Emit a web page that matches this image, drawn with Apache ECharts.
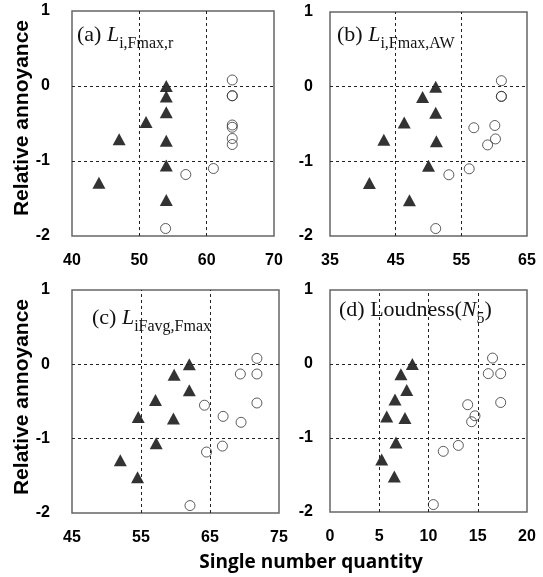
<!DOCTYPE html>
<html>
<head>
<meta charset="utf-8">
<script src="https://cdn.jsdelivr.net/npm/echarts@6/dist/echarts.min.js"></script>
<style>
  html, body { margin: 0; padding: 0; background: #fff; }
  #chart { width: 543px; height: 577px; }
</style>
</head>
<body>
<div id="chart"></div>
<script>
// ---- Data ----
// Shared relative-annoyance values
const triangleY = [0, -0.14, -0.35, -0.48, -0.71, -0.73, -1.06, -1.29, -1.52];
const circleY   = [0.08, -0.13, -0.13, -0.52, -0.55, -0.70, -0.78, -1.10, -1.18, -1.90];

// Panel (a) L_i,Fmax,r
const triangleXA = [54.0, 54.0, 54.0, 51.0, 47.0, 54.0, 54.0, 44.0, 54.0];
const circleXA   = [63.8, 63.8, 63.8, 63.8, 63.8, 63.8, 63.8, 61.0, 56.9, 53.9];
// Panel (b) L_i,Fmax,AW
const triangleXB = [51.1, 49.1, 51.1, 46.3, 43.2, 51.2, 50.0, 41.0, 47.1];
const circleXB   = [61.1, 61.1, 61.1, 60.1, 56.9, 60.2, 59.0, 56.2, 53.1, 51.1];
// Panel (c) L_iFavg,Fmax
const triangleXC = [62.0, 59.8, 62.0, 57.1, 54.6, 59.7, 57.2, 52.0, 54.5];
const circleXC   = [71.8, 69.4, 71.8, 71.8, 64.2, 66.9, 69.5, 66.8, 64.5, 62.1];
// Panel (d) Loudness(N5)
const triangleXD = [8.36, 7.2, 7.79, 6.6, 5.76, 7.61, 6.7, 5.25, 6.53];
const circleXD   = [16.5, 16.07, 17.33, 17.33, 13.98, 14.72, 14.38, 13.03, 11.5, 10.49];

// Axis ticks
const xTicksA = [40, 50, 60, 70];
const xTicksB = [35, 45, 55, 65];
const xTicksC = [45, 55, 65, 75];
const xTicksD = [0, 5, 10, 15, 20];
const yTicks  = [-2, -1, 0, 1];

const yAxisTitle = 'Relative annoyance';
const xAxisTitle = 'Single number quantity';

// ---- Build chart ----
const chart = echarts.init(document.getElementById('chart'), null, { renderer: 'canvas' });

const grids = [
  { left: 72,  top: 11,  width: 202, height: 225 },
  { left: 330, top: 12,  width: 197, height: 224 },
  { left: 72,  top: 290, width: 207, height: 223 },
  { left: 330, top: 290, width: 197, height: 222 }
];
const panels = [
  { tri: triangleXA, cir: circleXA, ticks: xTicksA, step: 10, ylabMargin: 22 },
  { tri: triangleXB, cir: circleXB, ticks: xTicksB, step: 5,  ylabMargin: 17 },
  { tri: triangleXC, cir: circleXC, ticks: xTicksC, step: 5,  ylabMargin: 22 },
  { tri: triangleXD, cir: circleXD, ticks: xTicksD, step: 5,  ylabMargin: 17 }
];

const labelFont = { fontFamily: 'Liberation Sans', fontWeight: 'bold', fontSize: 16, color: '#000' };

const xAxes = [], yAxes = [], series = [];
panels.forEach((p, i) => {
  const tmin = p.ticks[0], tmax = p.ticks[p.ticks.length - 1];
  const tickSet = new Set(p.ticks);
  xAxes.push({
    type: 'value', gridIndex: i, min: tmin, max: tmax, interval: p.step,
    axisLine: { show: false }, axisTick: { show: false }, splitLine: { show: false },
    axisLabel: Object.assign({
      margin: 17,
      formatter: v => (tickSet.has(Math.round(v * 100) / 100) ? String(v) : '')
    }, labelFont)
  });
  yAxes.push({
    type: 'value', gridIndex: i, min: yTicks[0], max: yTicks[yTicks.length - 1], interval: 1,
    axisLine: { show: false }, axisTick: { show: false }, splitLine: { show: false },
    axisLabel: Object.assign({ margin: p.ylabMargin }, labelFont)
  });
  const innerX = p.ticks.slice(1, -1);
  const innerY = yTicks.slice(1, -1);
  series.push({
    type: 'scatter', xAxisIndex: i, yAxisIndex: i,
    symbol: 'circle', symbolSize: 10,
    itemStyle: { color: 'rgba(0,0,0,0)', borderColor: '#333', borderWidth: 1 },
    data: p.cir.map((x, k) => [x, circleY[k]]),
    z: 3,
    markLine: {
      silent: true, symbol: 'none', animation: false,
      label: { show: false },
      lineStyle: { type: [3, 3], color: '#222', width: 1 },
      data: innerX.map(v => ({ xAxis: v })).concat(innerY.map(v => ({ yAxis: v })))
    }
  });
  series.push({
    type: 'scatter', xAxisIndex: i, yAxisIndex: i,
    symbol: 'triangle', symbolSize: [13, 12],
    itemStyle: { color: '#000' },
    data: p.tri.map((x, k) => [x, triangleY[k]]),
    z: 4
  });
});

const serif = 'Liberation Serif';
const titleRich = {
  n: { fontFamily: serif, fontSize: 22, lineHeight: 26, fontWeight: 'normal', color: '#111', verticalAlign: 'top' },
  i: { fontFamily: serif, fontSize: 22, lineHeight: 26, fontWeight: 'normal', fontStyle: 'italic', color: '#111', verticalAlign: 'top' },
  s: { fontFamily: serif, fontSize: 16, lineHeight: 16, fontWeight: 'normal', color: '#111', verticalAlign: 'top', padding: [12, 0, 0, 0] }
};
function mkTitle(text, left, top) {
  return { text: text, left: left, top: top, padding: 0,
           textStyle: { fontWeight: 'normal', fontFamily: serif, rich: titleRich } };
}

const option = {
  animation: false,
  backgroundColor: '#fff',
  grid: grids.map(g => Object.assign({ show: true, borderColor: '#666', borderWidth: 1.5, backgroundColor: 'transparent' }, g)),
  xAxis: xAxes,
  yAxis: yAxes,
  title: [
    mkTitle('{n|(a) }{i|L}{s|i,Fmax,r}', 77, 24),
    mkTitle('{n|(b) }{i|L}{s|i,Fmax,AW}', 337, 24),
    mkTitle('{n|(c) }{i|L}{s|iFavg,Fmax}', 92, 307),
    mkTitle('{n|(d) Loudness(}{i|N}{s|5}{n|)}', 339, 299)
  ],
  graphic: [
    { type: 'text', x: 22, y: 118, rotation: Math.PI / 2,
      style: { text: yAxisTitle, align: 'center', verticalAlign: 'middle',
               font: 'bold 21px "Liberation Sans"', fill: '#000' } },
    { type: 'text', x: 22, y: 397, rotation: Math.PI / 2,
      style: { text: yAxisTitle, align: 'center', verticalAlign: 'middle',
               font: 'bold 21px "Liberation Sans"', fill: '#000' } },
    { type: 'text', x: 311, y: 563,
      style: { text: xAxisTitle, align: 'center', verticalAlign: 'middle',
               font: 'bold 19px "Open Sans"', fill: '#000' } }
  ],
  series: series
};
chart.setOption(option);
</script>
</body>
</html>
